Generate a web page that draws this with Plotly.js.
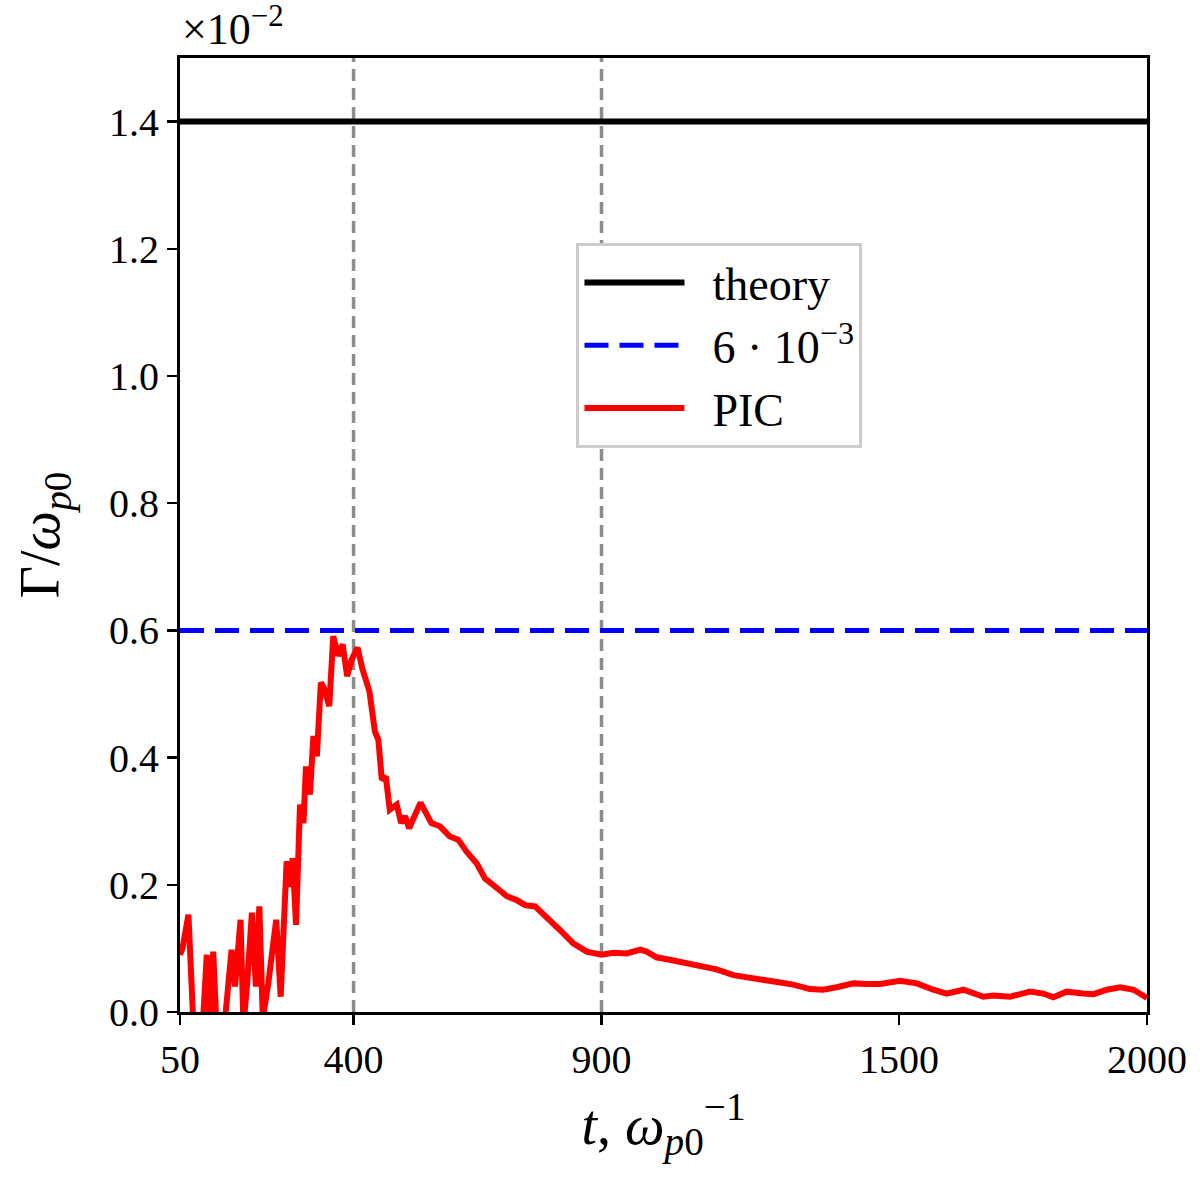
<!DOCTYPE html>
<html>
<head>
<meta charset="utf-8">
<script src="https://cdn.plot.ly/plotly-3.0.1.min.js"></script>
<style>
  html, body { margin: 0; padding: 0; background: #fff; }
  #chart { width: 1200px; height: 1195px; }
</style>
</head>
<body>
<div id="chart"></div>
<script>
// PIC growth rate (units of 1e-2)
const tPic = [50, 55, 67, 77, 84, 96, 104, 109, 117, 124, 133, 141, 154, 161, 172, 178, 185, 195, 203, 210,
  217, 228, 244, 253, 265, 273, 277, 284, 292, 299, 304, 312, 319, 326, 334, 340, 351, 359, 369, 378,
  387, 396, 408, 418, 432, 443, 450, 457, 465, 473, 487, 496, 504, 512, 535, 557, 574, 594, 611, 628,
  648, 665, 689, 709, 729, 746, 766, 789, 816, 843, 870, 900, 924, 951, 978, 991, 1011, 1045, 1078, 1099,
  1132, 1166, 1206, 1246, 1287, 1320, 1347, 1374, 1408, 1435, 1462, 1502, 1536, 1569, 1596, 1630, 1670, 1690,
  1724, 1764, 1791, 1811, 1838, 1871, 1892, 1919, 1946, 1973, 2000];
const gammaPic = [0.09, 0.10, 0.153, -0.02, -0.03, -0.02, 0.09, -0.02, 0.095, -0.03, -0.02, -0.01, 0.098, 0.04, 0.145, -0.02, 0.04, 0.156, 0.04, 0.166,
  -0.01, 0.045, 0.145, 0.024, 0.237, 0.197, 0.242, 0.137, 0.326, 0.297, 0.386, 0.342, 0.434, 0.402, 0.518, 0.51, 0.481, 0.591, 0.56, 0.578,
  0.528, 0.554, 0.573, 0.539, 0.504, 0.441, 0.428, 0.365, 0.37, 0.318, 0.326, 0.297, 0.308, 0.289, 0.329, 0.297, 0.292, 0.276, 0.271, 0.252,
  0.234, 0.21, 0.195, 0.182, 0.176, 0.168, 0.166, 0.15, 0.129, 0.108, 0.095, 0.09, 0.093, 0.092, 0.098, 0.095, 0.086, 0.081, 0.076, 0.071,
  0.067, 0.058, 0.053, 0.046, 0.043, 0.036, 0.035, 0.039, 0.045, 0.044, 0.044, 0.049, 0.045, 0.035, 0.029, 0.035, 0.024, 0.026,
  0.024, 0.032, 0.029, 0.023, 0.032, 0.029, 0.028, 0.035, 0.039, 0.035, 0.022];

const tSpan = [50, 2000];
const gammaTheory = 1.4;
const gammaFit = 0.6;
const markTimes = [400, 900];

const xTicks = [50, 400, 900, 1500, 2000];
const yTicks = [0, 0.2, 0.4, 0.6, 0.8, 1.0, 1.2, 1.4];

const serif = 'Liberation Serif, DejaVu Serif, serif';
const gap = '\u00a0\u00a0'; // space between legend line and label

const traces = [
  {
    x: tSpan, y: [gammaTheory, gammaTheory],
    mode: 'lines', name: gap + 'theory',
    line: { color: '#000', width: 6 }
  },
  {
    x: tSpan, y: [gammaFit, gammaFit],
    mode: 'lines', name: gap + '6 · 10<sup>−3</sup>',
    line: { color: '#0000ff', width: 5, dash: '24px,11px' }
  },
  {
    x: tPic, y: gammaPic,
    mode: 'lines', name: gap + 'PIC',
    line: { color: '#ff0000', width: 6 }
  }
];

// gray dashed markers at selected times
const shapes = markTimes.map(t => ({
  type: 'line', xref: 'x', yref: 'paper',
  x0: t, x1: t, y0: 0, y1: 1,
  line: { color: '#8c8c8c', width: 3.5, dash: '12px,7px' },
  layer: 'below'
}));

const axisBase = {
  showgrid: false,
  zeroline: false,
  showline: true,
  linecolor: '#000',
  linewidth: 3,
  mirror: true,
  ticks: 'outside',
  ticklen: 10,
  tickwidth: 2.5,
  tickcolor: '#000',
  tickfont: { family: serif, size: 40, color: '#000' }
};

const layout = {
  width: 1200,
  height: 1195,
  margin: { l: 180, r: 53, t: 58, b: 183 },
  paper_bgcolor: '#fff',
  plot_bgcolor: '#fff',
  font: { family: serif, color: '#000' },
  showlegend: true,
  legend: {
    x: 0.41, y: 0.806, xanchor: 'left', yanchor: 'top',
    bgcolor: '#fff',
    bordercolor: '#cccccc',
    borderwidth: 3,
    itemwidth: 100,
    font: { family: serif, size: 46, color: '#000' },
    tracegroupgap: 0
  },
  xaxis: Object.assign({}, axisBase, {
    range: tSpan,
    tickmode: 'array',
    tickvals: xTicks,
    ticktext: xTicks.map(String),
    title: {
      text: '<i>t</i>, <i>ω</i><sub><i>p</i>0</sub><sup>−1</sup>',
      font: { family: serif, size: 56, color: '#000' },
      standoff: 24
    }
  }),
  yaxis: Object.assign({}, axisBase, {
    range: [0, 1.5],
    tickmode: 'array',
    tickvals: yTicks,
    ticktext: yTicks.map(v => v.toFixed(1)),
    title: {
      text: 'Γ/<i>ω</i><sub><i>p</i>0</sub>',
      font: { family: serif, size: 56, color: '#000' },
      standoff: 32
    }
  }),
  shapes: shapes,
  annotations: [{
    xref: 'paper', yref: 'paper', x: 0, y: 1,
    xanchor: 'left', yanchor: 'bottom', yshift: 2,
    showarrow: false,
    text: '×10<sup>−2</sup>',
    font: { family: serif, size: 44, color: '#000' }
  }]
};

Plotly.newPlot('chart', traces, layout, { displayModeBar: false, staticPlot: true });
</script>
</body>
</html>
